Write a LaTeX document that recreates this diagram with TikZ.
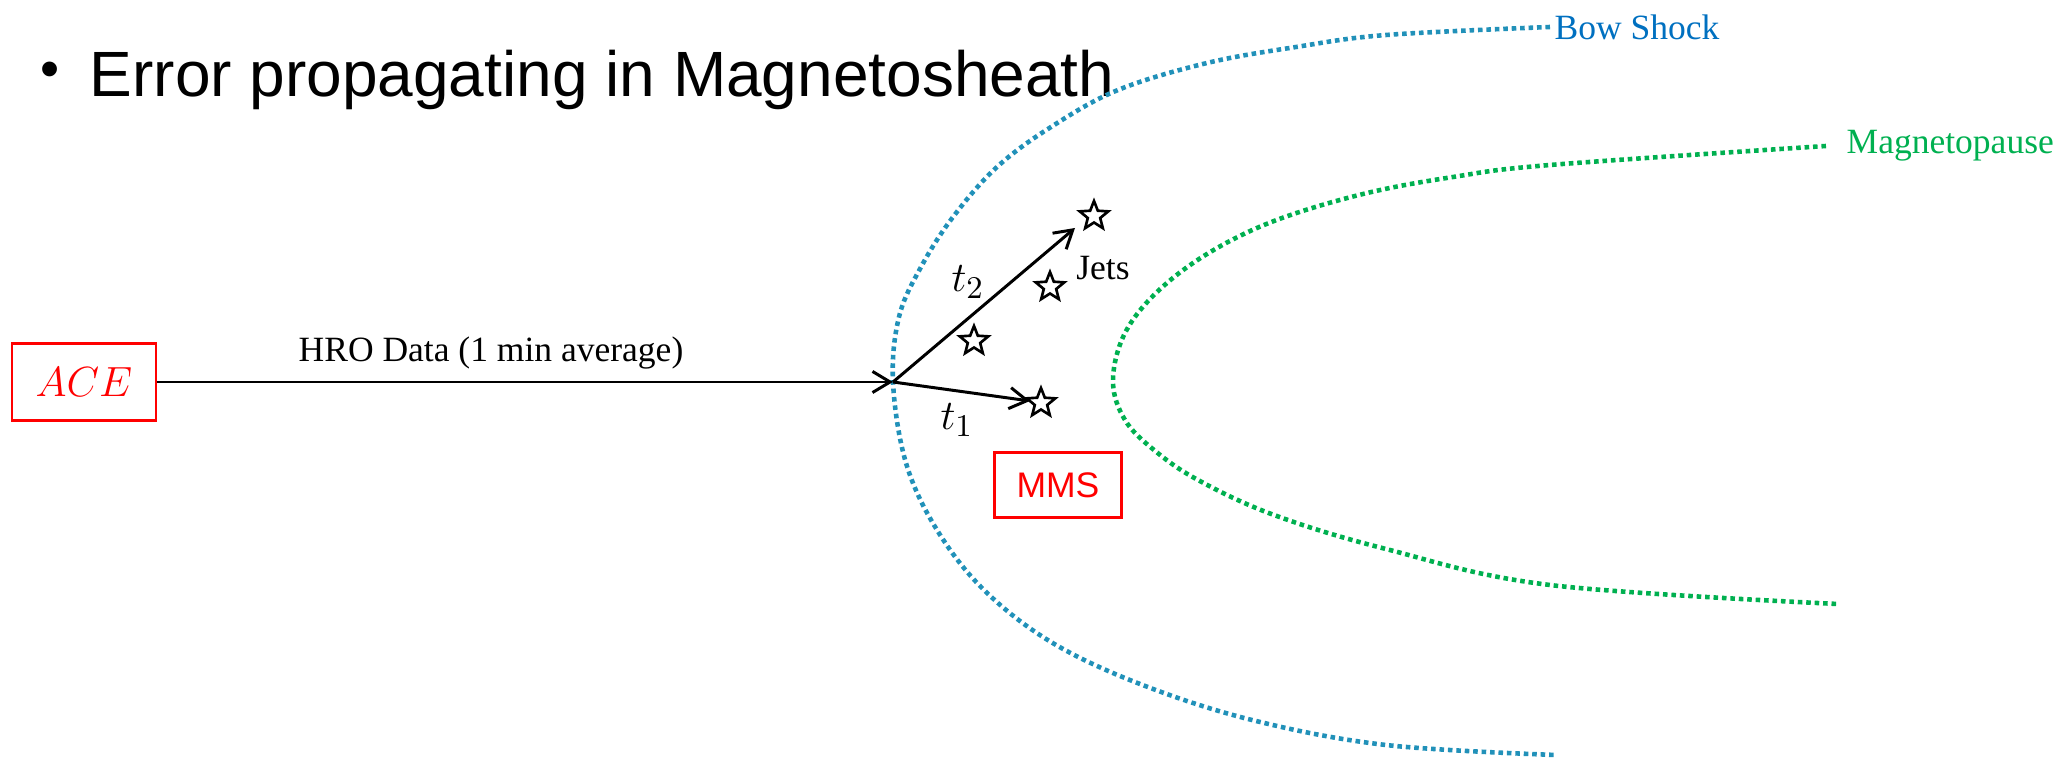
\documentclass[tikz,border=0pt]{standalone}
\usepackage{fontspec}
\setmainfont{Liberation Serif}
\newfontfamily\arialf{Liberation Sans}
\usetikzlibrary{arrows.meta,shapes.geometric}
\definecolor{bsblue}{RGB}{33,145,185}
\definecolor{bslabel}{RGB}{0,112,192}
\definecolor{mpgreen}{RGB}{0,176,80}
\tikzset{
  arr/.style={draw=black, line width=0.85pt, -{Straight Barb[length=5pt,width=6pt,line width=0.85pt]}},
  redbox/.style={draw=red, line width=0.6pt, inner sep=0, text=red},
  jetstar/.style={star, star points=5, star point ratio=2.3, draw=black, fill=white, line width=0.75pt, minimum size=0.3cm, inner sep=0},
  bowline/.style={draw=bsblue, line width=1.3pt, dash pattern=on 1.3pt off 1.1pt},
  mpline/.style={draw=mpgreen, line width=1.3pt, dash pattern=on 1.3pt off 1.1pt},
  lbl/.style={font=\fontsize{10.1}{12}\selectfont, inner sep=0},
  mathlbl/.style={font=\fontsize{12.5}{14}\selectfont, inner sep=0},
}
\begin{document}
\begin{tikzpicture}[x=0.01cm, y=-0.01cm]
\useasboundingbox (0,0) rectangle (2065,758);
% title
\node[anchor=base, inner sep=0, font=\arialf\fontsize{15.5}{17}\selectfont] (bullet) at (50,88) {\textbullet};
\node[anchor=base west, inner sep=0, font=\arialf\fontsize{18.2}{22}\selectfont] (title) at (89,97) {Error propagating in Magnetosheath};
% bow shock
\draw[bowline] plot[smooth, tension=0.6] coordinates {(1550,27) (1386,35) (1296,47) (1207,63) (1118,90) (1051,127) (997,167) (953,217) (921,267) (899,317) (893,382) (906,463) (937,530) (984,590) (1051,642) (1140,684) (1252,720) (1386,745) (1556,755)};
\node[anchor=west, inner sep=0, text=bslabel, font=\fontsize{10.1}{12}\selectfont] (bslbl) at (1554,27) {Bow Shock};
% magnetopause
\draw[mpline] plot[smooth, tension=0.6] coordinates {(1826,146) (1550,165) (1453,177) (1363,194) (1274,221) (1207,254) (1156,293) (1124,335) (1113,382) (1125,420) (1154,450) (1198,480) (1274,515) (1386,549) (1550,585) (1838,604)};
\node[anchor=west, inner sep=0, text=mpgreen, font=\fontsize{10.1}{12}\selectfont] (mplbl) at (1846,146) {Magnetopause};
% boxes
\node[redbox, minimum width=1.44cm, minimum height=0.77cm, font=\fontsize{13}{15}\selectfont] (ace) at (84,382) {$ACE$};
\node[redbox, minimum width=1.27cm, minimum height=0.65cm, font=\arialf\fontsize{10.1}{12}\selectfont] (mms) at (1058,485) {MMS};
% junction and tips
\coordinate (j) at (893,382);
\coordinate (tip2) at (1075,228);
\coordinate (tip1) at (1030,401);
\draw[arr] (ace.east) -- (j);
\draw[arr] (j) -- (tip2);
\draw[arr] (j) -- (tip1);
\node[lbl, anchor=south] (hro) at (491,370) {HRO Data (1 min average)};
% stars
\node[jetstar] (s1) at (1094,216) {};
\node[jetstar] (s2) at (1050,287) {};
\node[jetstar] (s3) at (974,341) {};
\node[jetstar] (s4) at (1041,403) {};
\node[lbl] (jets) at (1103,268) {Jets};
\node[mathlbl] (t2) at (968,282) {$t_2$};
\node[mathlbl] (t1) at (957,420) {$t_1$};
\end{tikzpicture}
\end{document}
